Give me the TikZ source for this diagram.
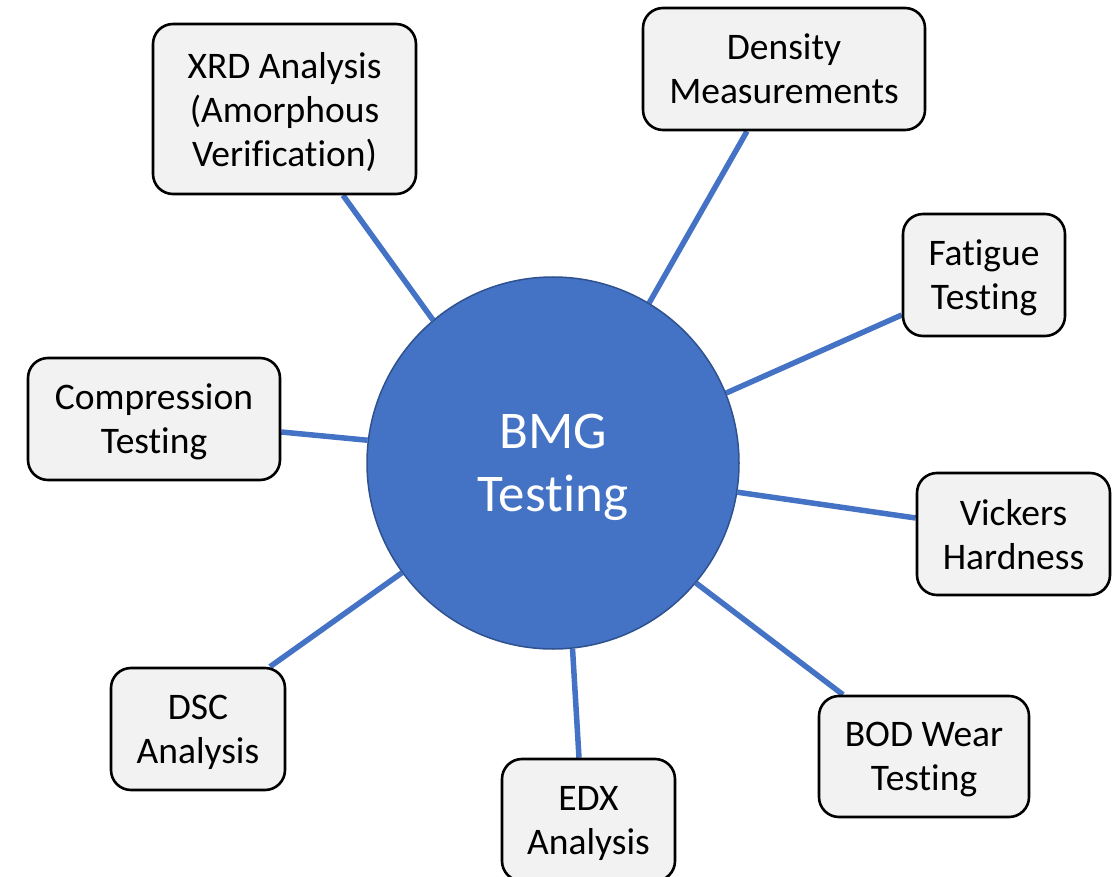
\documentclass[tikz,border=0pt]{standalone}
\usepackage{fontspec}
\setmainfont{Carlito}[Ligatures={NoCommon}]
\usetikzlibrary{backgrounds}
\definecolor{hubblue}{HTML}{4472C4}
\definecolor{hubedge}{HTML}{2F528F}
\definecolor{boxfill}{HTML}{F2F2F2}
\tikzset{
  hub/.style={circle, fill=hubblue, draw=hubedge, line width=1.5pt,
    minimum size=372pt, inner sep=0pt, text=white, align=center,
    font=\fontsize{53}{63}\selectfont, text depth=-3pt},
  topic/.style={rectangle, rounded corners=20pt, fill=boxfill, draw=black,
    line width=2.6pt, inner sep=0pt, align=center,
    font=\fontsize{37.5}{44}\selectfont, text depth=0pt},
  link/.style={draw=hubblue, line width=5.5pt}
}
\begin{document}
\begin{tikzpicture}[x=1pt, y=-1pt]
\useasboundingbox (0,0) rectangle (1119,877);

\node[hub] (hub) at (553,463) {BMG\\Testing};

\node[topic, minimum width=263pt, minimum height=170pt] (xrd) at (284.5,109)
  {XRD Analysis\\(Amorphous\\Verification)};
\node[topic, minimum width=282pt, minimum height=122pt] (dens) at (784,69)
  {Density\\Measurements};
\node[topic, minimum width=162pt, minimum height=122pt] (fat) at (984,275)
  {Fatigue\\Testing};
\node[topic, minimum width=252pt, minimum height=122pt] (comp) at (154,419)
  {Compression\\Testing};
\node[topic, minimum width=193pt, minimum height=122pt] (vick) at (1013.5,534)
  {Vickers\\Hardness};
\node[topic, minimum width=210pt, minimum height=121pt] (bod) at (924,756.5)
  {BOD Wear\\Testing};
\node[topic, minimum width=173pt, minimum height=122pt] (edx) at (588.5,820)
  {EDX\\Analysis};
\node[topic, minimum width=174pt, minimum height=122pt] (dsc) at (198,729)
  {DSC\\Analysis};

\begin{pgfonlayer}{background}
  \draw[link] (hub.130) -- ([xshift=58.5pt]xrd.south);
  \draw[link] (hub.59.5) -- ([xshift=-37pt]dens.south);
  \draw[link] (hub.22.4) -- ([yshift=-40pt]fat.west);
  \draw[link] (hub.173.5) -- ([yshift=-13pt]comp.east);
  \draw[link] (hub.-9) -- ([yshift=16pt]vick.west);
  \draw[link] (hub.-40.7) -- ([xshift=-81pt]bod.north);
  \draw[link] (hub.-84.8) -- ([xshift=-9.5pt]edx.north);
  \draw[link] (hub.216.6) -- ([xshift=72pt]dsc.north);
\end{pgfonlayer}
\end{tikzpicture}
\end{document}
